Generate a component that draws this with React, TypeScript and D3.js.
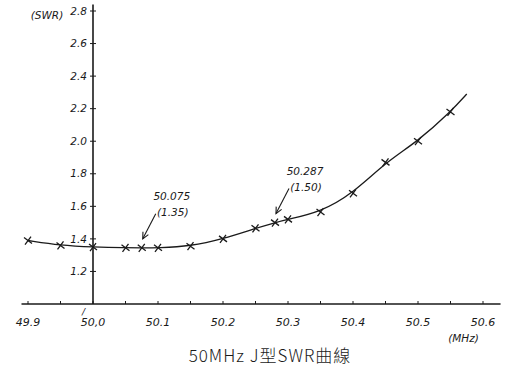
import { useEffect, useRef } from "react";
import * as d3 from "d3";

// measured points (MHz, SWR)
const freqs = [49.9, 49.95, 50.0, 50.05, 50.075, 50.1, 50.15, 50.2, 50.25, 50.28, 50.3, 50.35, 50.4, 50.45, 50.5, 50.55];
const swr = [1.39, 1.36, 1.35, 1.345, 1.345, 1.345, 1.355, 1.4, 1.465, 1.5, 1.52, 1.565, 1.68, 1.87, 2.0, 2.18];
// where the hand-drawn curve stops
const curveEnd = [50.575, 2.29];

const yTicks = [1.2, 1.4, 1.6, 1.8, 2.0, 2.2, 2.4, 2.6, 2.8];
const xMinor = d3.range(0, 15).map((i) => 49.9 + i * 0.05);
const xLabels = ["49.9", "50.0", "50.1", "50.2", "50.3", "50.4", "50.5", "50.6"];

const notes = [
  { f: 50.075, s: 1.345, top: "50.075", bottom: "(1.35)" },
  { f: 50.28, s: 1.5, top: "50.287", bottom: "(1.50)" },
];

const font = "'DejaVu Sans', sans-serif";

export default function App() {
  const ref = useRef<SVGSVGElement>(null);

  useEffect(() => {
    const svg = d3.select(ref.current);
    svg.selectAll("*").remove();

    const x = d3.scaleLinear().domain([50.0, 50.6]).range([93, 483]);
    const y = d3.scaleLinear().domain([1.0, 2.8]).range([304, 11]);
    const ink = "#1a1a1a";

    // axes
    svg.append("line")
      .attr("x1", x(49.89)).attr("x2", x(50.627))
      .attr("y1", y(1.0)).attr("y2", y(1.0))
      .attr("stroke", ink).attr("stroke-width", 1.4);
    svg.append("line")
      .attr("x1", x(50)).attr("x2", x(50))
      .attr("y1", y(2.84)).attr("y2", y(1.0))
      .attr("stroke", ink).attr("stroke-width", 1.6);

    const yg = svg.append("g").attr("font-family", font).attr("font-size", 10.5).attr("font-style", "italic").attr("fill", ink);
    yTicks.forEach((t) => {
      yg.append("line")
        .attr("x1", x(50) - 3).attr("x2", x(50) + 3)
        .attr("y1", y(t)).attr("y2", y(t))
        .attr("stroke", ink).attr("stroke-width", 1);
      yg.append("text")
        .attr("x", x(50) - 6).attr("y", y(t)).attr("dy", "0.35em")
        .attr("text-anchor", "end")
        .text(t.toFixed(1));
    });
    yg.append("text")
      .attr("x", 47).attr("y", y(2.8)).attr("dy", "0.75em")
      .attr("text-anchor", "middle").attr("font-size", 10.5)
      .text("(SWR)");

    const xg = svg.append("g").attr("font-family", font).attr("font-size", 11).attr("font-style", "italic").attr("fill", ink);
    xMinor.forEach((t) => {
      xg.append("line")
        .attr("x1", x(t)).attr("x2", x(t))
        .attr("y1", y(1.0)).attr("y2", y(1.0) - 3)
        .attr("stroke", ink).attr("stroke-width", 1);
    });
    xLabels.forEach((l) => {
      xg.append("text")
        .attr("x", x(+l)).attr("y", y(1.0) + 22)
        .attr("text-anchor", "middle")
        .text(l === "50.0" ? "50,0" : l);
    });
    xg.append("text")
      .attr("x", x(50) - 11).attr("y", y(1.0) + 11)
      .attr("font-size", 9).text("/");
    xg.append("text")
      .attr("x", x(50.57)).attr("y", y(1.0) + 38)
      .attr("text-anchor", "middle").attr("font-size", 10.5)
      .text("(MHz)");

    // curve
    const pts: [number, number][] = freqs.map((f, i) => [f, swr[i]]);
    const line = d3.line<[number, number]>()
      .x((d) => x(d[0])).y((d) => y(d[1]))
      .curve(d3.curveBasis);
    svg.append("path")
      .attr("d", line([pts[0], ...pts, [curveEnd[0], curveEnd[1]], [curveEnd[0], curveEnd[1]]]))
      .attr("fill", "none").attr("stroke", ink).attr("stroke-width", 1.3);

    // x markers
    const m = svg.append("g").attr("stroke", ink).attr("stroke-width", 1.3);
    pts.forEach(([f, s]) => {
      const cx = x(f), cy = y(s);
      m.append("path")
        .attr("d", `M${cx - 4},${cy - 3}L${cx + 4},${cy + 3}M${cx + 3},${cy - 4}L${cx - 3},${cy + 4}`)
        .attr("fill", "none");
    });

    // annotations with arrows pointing down to the marker
    const ng = svg.append("g").attr("font-family", font).attr("font-size", 10.5).attr("font-style", "italic").attr("fill", ink);
    notes.forEach((n) => {
      const px = x(n.f), py = y(n.s);
      const sx = px + 14, sy = py - 34;
      const tx = px + 1, ty = py - 9;
      const ang = Math.atan2(ty - sy, tx - sx);
      const h = 7, spread = 0.45;
      ng.append("line")
        .attr("x1", sx).attr("y1", sy).attr("x2", tx).attr("y2", ty)
        .attr("stroke", ink).attr("stroke-width", 1.1);
      ng.append("path")
        .attr("d", `M${tx - h * Math.cos(ang - spread)},${ty - h * Math.sin(ang - spread)}L${tx},${ty}L${tx - h * Math.cos(ang + spread)},${ty - h * Math.sin(ang + spread)}`)
        .attr("fill", "none").attr("stroke", ink).attr("stroke-width", 1.1);
      ng.append("text").attr("x", px + 30).attr("y", py - 48).attr("text-anchor", "middle").text(n.top);
      ng.append("text").attr("x", px + 31).attr("y", py - 32).attr("text-anchor", "middle").text(n.bottom);
    });

    // title
    svg.append("text")
      .attr("x", 270).attr("y", 362)
      .attr("text-anchor", "middle")
      .attr("font-family", "'Noto Sans CJK TC', sans-serif")
      .attr("font-size", 17).attr("font-weight", 300)
      .attr("letter-spacing", 1)
      .attr("fill", ink)
      .text("50MHz J型SWR曲線");
  }, []);

  return (
    <svg
      ref={ref}
      width={514}
      height={372}
      style={{ position: "absolute", left: 0, top: 0, background: "#fff" }}
    />
  );
}
